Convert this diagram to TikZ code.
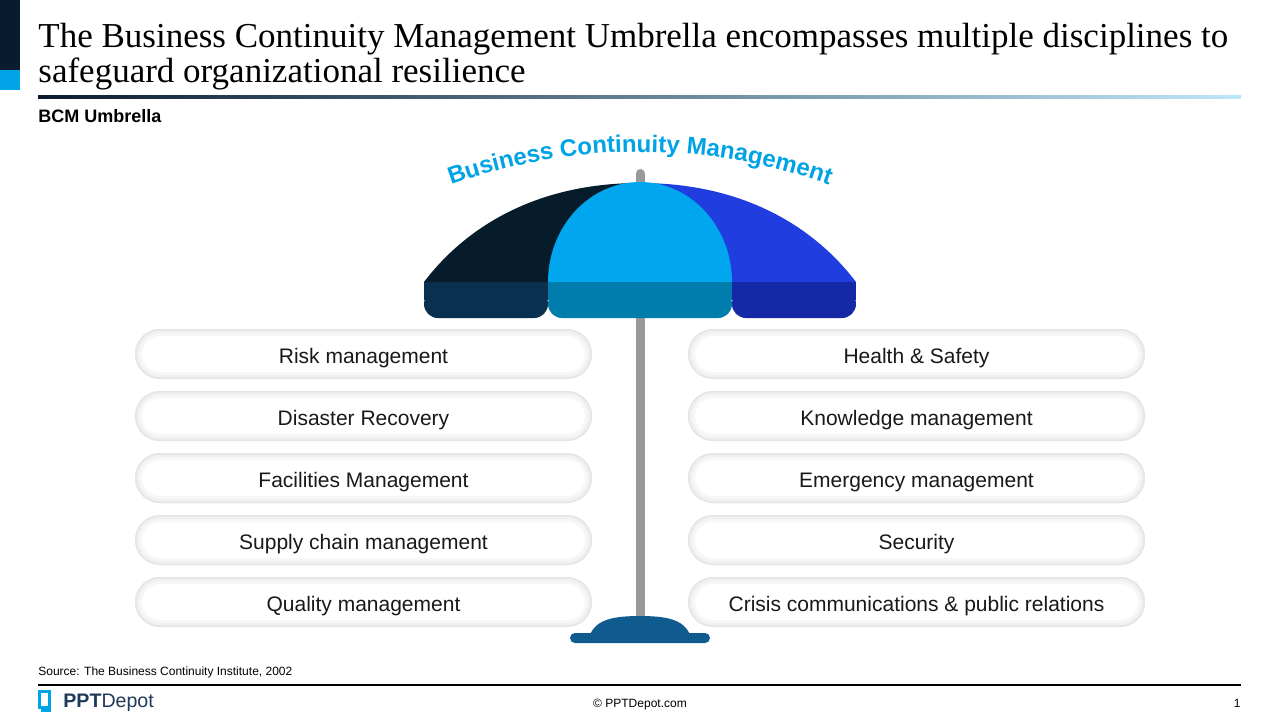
\documentclass[tikz,border=0pt]{standalone}
\usepackage{fontspec}
\setmainfont{Liberation Serif}
\setsansfont{Liberation Sans}
\usetikzlibrary{decorations.text}

\definecolor{navybar}{HTML}{071C2E}
\definecolor{cyanbar}{HTML}{00A3E6}
\definecolor{canopydark}{HTML}{061C2B}
\definecolor{canopyblue}{HTML}{203DDF}
\definecolor{domecyan}{HTML}{00A6EE}
\definecolor{bandleft}{HTML}{0A304F}
\definecolor{bandmid}{HTML}{007DAD}
\definecolor{bandright}{HTML}{1529A7}
\definecolor{polegray}{HTML}{999999}
\definecolor{basecol}{HTML}{0F5B8F}
\definecolor{logoblue}{HTML}{1F3A5A}
\definecolor{ruleleft}{HTML}{0A1C2E}
\definecolor{ruleright}{HTML}{BEE6FA}

\begin{document}
\begin{tikzpicture}[x=0.5pt, y=0.5pt, font=\sffamily]
		\tikzstyle{pill}=[rectangle, rounded corners=12.5pt, minimum width=228.5pt, minimum height=25pt, inner sep=0pt, text height=9pt, text depth=0pt, fill=white, text=black!90, font=\sffamily\fontsize{10.5}{12}\selectfont,
			path picture={
				\draw[black!3, line width=7pt, rounded corners=12.5pt] (path picture bounding box.south west) rectangle (path picture bounding box.north east);
				\draw[black!6, line width=4pt, rounded corners=12.5pt] (path picture bounding box.south west) rectangle (path picture bounding box.north east);
				\draw[black!10, line width=1.5pt, rounded corners=12.5pt] (path picture bounding box.south west) rectangle (path picture bounding box.north east);
			}]
		\tikzstyle{foot}=[font=\sffamily\fontsize{6}{7}\selectfont, inner sep=0pt]
		
		\fill[white] (0,0) rectangle (1280,-720);
		\useasboundingbox (0,0) rectangle (1280,-720);
		
		% header
		\fill[navybar] (0,0) rectangle (20,-70);
		\fill[cyanbar] (0,-70) rectangle (20,-90);
		\node[anchor=north west, inner sep=0pt, align=left, font=\rmfamily\fontsize{17.5}{17.5}\selectfont] at (38,-23) (title) {The Business Continuity Management Umbrella encompasses multiple disciplines to\\safeguard organizational resilience};
		\shade[left color=ruleleft, right color=ruleright] (38,-95.5) rectangle (1241,-98.5);
		\node[anchor=base west, inner sep=0pt, font=\sffamily\bfseries\fontsize{9}{10}\selectfont] at (38,-122) (sub) {BCM Umbrella};
		
		% umbrella
		\draw[polegray, line width=4.5pt, line cap=round] (640,-173.5) -- (640,-620);
		\fill[canopydark] (424,-282) .. controls (465,-228) and (535,-183) .. (640,-183) -- (640,-282) -- cycle;
		\fill[canopyblue] (856,-282) .. controls (815,-228) and (745,-183) .. (640,-183) -- (640,-282) -- cycle;
		\fill[domecyan] (548,-282) arc[start angle=180, end angle=0, x radius=92, y radius=100] -- cycle;
		\fill[bandleft] (424,-282) rectangle (548,-300);
		\fill[bandleft, rounded corners=7pt] (424,-290) rectangle (548,-318);
		\fill[bandmid] (548,-282) rectangle (732,-300);
		\fill[bandmid, rounded corners=7pt] (548,-290) rectangle (732,-318);
		\fill[bandright] (732,-282) rectangle (856,-300);
		\fill[bandright, rounded corners=7pt] (732,-290) rectangle (856,-318);
		\path[decorate, decoration={text along path, text align=center, text color=cyanbar,
			text={|\sffamily\bfseries\fontsize{12}{12}\selectfont|Business Continuity Management}}]
			(640,-712) ++(110.5:560) arc[start angle=110.5, end angle=69.5, radius=560];
		\fill[basecol] (590,-635) .. controls (596,-619) and (615,-616) .. (640,-616) .. controls (665,-616) and (684,-619) .. (690,-635) -- cycle;
		\fill[basecol, rounded corners=2.5pt] (570,-633) rectangle (710,-643);
		
		% disciplines
		\node[pill] at (363.5,-354) (risk) {Risk management};
		\node[pill] at (363.5,-416) (disaster) {Disaster Recovery};
		\node[pill] at (363.5,-478) (facilities) {Facilities Management};
		\node[pill] at (363.5,-540) (supply) {Supply chain management};
		\node[pill] at (363.5,-602) (quality) {Quality management};
		\node[pill] at (916.5,-354) (health) {Health \& Safety};
		\node[pill] at (916.5,-416) (knowledge) {Knowledge management};
		\node[pill] at (916.5,-478) (emergency) {Emergency management};
		\node[pill] at (916.5,-540) (security) {Security};
		\node[pill] at (916.5,-602) (crisis) {Crisis communications \& public relations};
		
		% footer
		\node[foot, anchor=base west] at (38,-675) (src) {Source: The Business Continuity Institute, 2002};
		\draw[black, line width=0.6pt] (38,-685) -- (1241,-685);
		\fill[cyanbar] (38,-690) rectangle (51,-712);
		\fill[white] (41,-693) rectangle (48,-706);
		\fill[white] (38,-709) rectangle (41,-712);
		\node[anchor=base west, inner sep=0pt, text=logoblue, font=\sffamily\fontsize{9.8}{10}\selectfont] at (63,-707) (logo) {\textbf{PPT}Depot};
		\node[foot, anchor=base] at (640,-707) (copy) {\textcopyright\ PPTDepot.com};
		\node[foot, anchor=base east] at (1241,-707) (pnum) {1};
\end{tikzpicture}
\end{document}
